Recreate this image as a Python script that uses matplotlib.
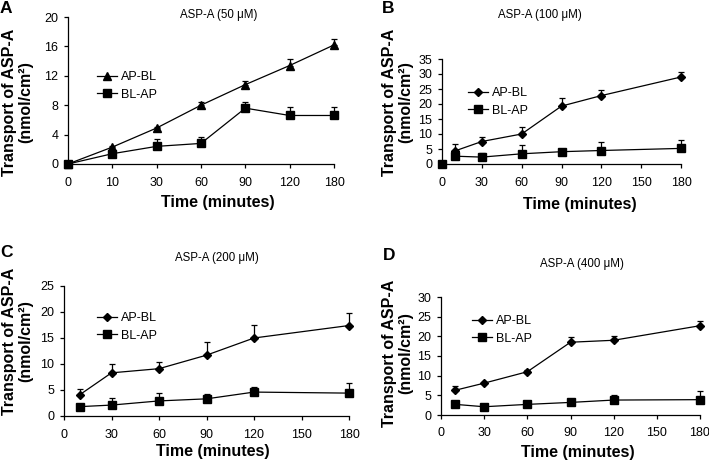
import numpy as np
import matplotlib
matplotlib.use("Agg")
import matplotlib.pyplot as plt

plt.rcParams['font.family'] = ['Liberation Sans', 'DejaVu Sans']

# panel A (categorical time axis)
a_labels = ['0', '10', '30', '60', '90', '120', '180']
a_apbl = [0, 2.3, 4.9, 8.0, 10.8, 13.4, 16.2]
a_apbl_err = [0, 0.2, 0.2, 0.45, 0.45, 0.9, 0.85]
a_blap = [0, 1.4, 2.4, 2.8, 7.6, 6.6, 6.6]
a_blap_err = [0, 0.2, 0.95, 0.85, 0.8, 1.2, 1.2]

# panel B
b_time = [10, 30, 60, 90, 120, 180]
b_apbl = [4.4, 7.5, 10.0, 19.3, 22.8, 29.0]
b_apbl_err = [2.3, 1.4, 2.2, 2.8, 1.8, 1.7]
b_time2 = [0, 10, 30, 60, 90, 120, 180]
b_blap = [0, 2.6, 2.3, 3.4, 4.1, 4.5, 5.2]
b_blap_err = [0, 0, 1.5, 2.8, 0.4, 2.7, 2.8]

# panel C
c_time = [10, 30, 60, 90, 120, 180]
c_apbl = [4.1, 8.3, 9.1, 11.7, 15.0, 17.4]
c_apbl_err = [1.1, 1.7, 1.2, 2.6, 2.5, 2.5]
c_blap = [1.8, 2.1, 2.9, 3.3, 4.6, 4.4]
c_blap_err = [0.5, 1.3, 1.6, 0.9, 0.9, 1.9]

# panel D
d_time = [10, 30, 60, 90, 120, 180]
d_apbl = [6.3, 8.1, 11.0, 18.5, 19.0, 22.7]
d_apbl_err = [1.2, 0.3, 0.4, 1.3, 1.2, 1.3]
d_blap = [2.7, 2.1, 2.7, 3.2, 3.8, 3.9]
d_blap_err = [0.3, 0.2, 0.2, 0.3, 1.2, 2.2]

W, H = 709, 462
fig = plt.figure(figsize=(W / 100, H / 100), dpi=100)


def box(l, r, t, b):
    return [l / W, 1 - b / H, (r - l) / W, (b - t) / H]


axA = fig.add_axes(box(68, 334, 17, 164))
axB = fig.add_axes(box(442, 681, 59, 164))
axC = fig.add_axes(box(64, 349, 286, 416))
axD = fig.add_axes(box(441, 700, 297, 415))

lw = 0.9
tick_fs = 9
lab_fs = 11.5
ylab = 'Transport of ASP-A\n(nmol/cm²)'


def series(ax, x, y, err, marker, ms, label):
    ax.errorbar(x, y, yerr=[np.zeros(len(err)), err], fmt='none', ecolor='black',
                elinewidth=lw, capsize=2, capthick=lw, clip_on=False)
    ax.plot(x, y, color='black', lw=lw, marker=marker, ms=ms, label=label, clip_on=False)


def style(ax, xlc, ylc, leg):
    for s in ['top', 'right']:
        ax.spines[s].set_visible(False)
    for s in ['left', 'bottom']:
        ax.spines[s].set_linewidth(0.9)
    ax.tick_params(direction='out', length=3, width=0.9, labelsize=tick_fs)
    ax.tick_params(axis='x', pad=6)
    ax.tick_params(axis='y', pad=4)
    ax.set_xlabel('Time (minutes)', fontsize=lab_fs, fontweight='bold')
    ax.xaxis.set_label_coords(*xlc)
    ax.xaxis.label.set_va('center')
    ax.set_ylabel(ylab, fontsize=lab_fs, fontweight='bold', linespacing=1.1)
    ax.yaxis.set_label_coords(*ylc)
    ax.yaxis.label.set_va('center')
    ax.legend(loc='upper left', bbox_to_anchor=leg, frameon=False, fontsize=tick_fs,
              handlelength=1.6, handletextpad=0.3, borderpad=0, borderaxespad=0,
              labelspacing=0.45, numpoints=1)


# A
xa = np.arange(len(a_labels))
series(axA, xa, a_apbl, a_apbl_err, '^', 6, 'AP-BL')
series(axA, xa, a_blap, a_blap_err, 's', 5.5, 'BL-AP')
axA.set_xlim(0, 6)
axA.set_xticks(xa)
axA.set_xticklabels(a_labels)
axA.set_ylim(0, 20)
axA.set_yticks(range(0, 21, 4))
axA.tick_params(axis='y', pad=7)
style(axA, (0.564, -0.265), (-0.188, 0.42), (0.109, 0.633))

# B
axB.errorbar(b_time, b_apbl, yerr=[np.zeros(6), b_apbl_err], fmt='none', ecolor='black',
             elinewidth=lw, capsize=2, capthick=lw, clip_on=False)
axB.errorbar(b_time2, b_blap, yerr=[np.zeros(7), b_blap_err], fmt='none', ecolor='black',
             elinewidth=lw, capsize=2, capthick=lw, clip_on=False)
axB.plot(b_time, b_apbl, color='black', lw=lw, marker='D', ms=4, label='AP-BL', clip_on=False)
axB.plot(b_time2[1:], b_blap[1:], color='black', lw=lw, marker='s', ms=5.5, label='BL-AP', clip_on=False)
axB.plot(b_time2[:1], b_blap[:1], color='black', lw=0, marker='s', ms=5.5, clip_on=False)
axB.set_xlim(0, 180)
axB.set_xticks(range(0, 181, 30))
axB.set_ylim(0, 35)
axB.set_yticks(range(0, 36, 5))
style(axB, (0.577, -0.39), (-0.184, 0.59), (0.109, 0.733))

# C
series(axC, c_time, c_apbl, c_apbl_err, 'D', 4, 'AP-BL')
series(axC, c_time, c_blap, c_blap_err, 's', 5.5, 'BL-AP')
axC.set_xlim(0, 180)
axC.set_xticks(range(0, 181, 30))
axC.set_ylim(0, 25)
axC.set_yticks(range(0, 26, 5))
style(axC, (0.523, -0.27), (-0.163, 0.577), (0.116, 0.8))

# D
series(axD, d_time, d_apbl, d_apbl_err, 'D', 4, 'AP-BL')
series(axD, d_time, d_blap, d_blap_err, 's', 5.5, 'BL-AP')
axD.set_xlim(0, 180)
axD.set_xticks(range(0, 181, 30))
axD.set_ylim(0, 30)
axD.set_yticks(range(0, 31, 5))
style(axD, (0.529, -0.32), (-0.166, 0.525), (0.12, 0.847))

# titles and panel letters
title_fs = 8.3
fig.text(219 / W, 1 - 15 / H, 'ASP-A (50 μM)', ha='center', va='center', fontsize=title_fs)
fig.text(540 / W, 1 - 15 / H, 'ASP-A (100 μM)', ha='center', va='center', fontsize=title_fs)
fig.text(217 / W, 1 - 258 / H, 'ASP-A (200 μM)', ha='center', va='center', fontsize=title_fs)
fig.text(582 / W, 1 - 264 / H, 'ASP-A (400 μM)', ha='center', va='center', fontsize=title_fs)

for letter, x, y in [('A', 0, 1), ('B', 382, 1), ('C', 0, 245), ('D', 383, 248)]:
    fig.text(x / W, 1 - y / H, letter, ha='left', va='top', fontsize=12.5, fontweight='bold')

fig.savefig('out.png', dpi=100)
